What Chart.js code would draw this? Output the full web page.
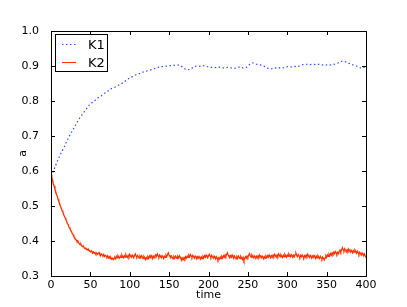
<!DOCTYPE html>
<html>
<head>
<meta charset="utf-8">
<script src="https://cdn.jsdelivr.net/npm/chart.js@4.4.0/dist/chart.umd.min.js"></script>
<style>
  html, body { margin: 0; padding: 0; background: #fff; }
  canvas { display: block; }
</style>
</head>
<body>
<canvas id="grafica" width="407" height="307"></canvas>
<script>
// values
var xTicks = [0, 50, 100, 150, 200, 250, 300, 350, 400];
var yTicks = [0.3, 0.4, 0.5, 0.6, 0.7, 0.8, 0.9, 1.0];

// K1 sampled every 4 time units
var k1Step = 4;
var k1 = [0.585, 0.605, 0.628, 0.648, 0.665, 0.685, 0.703, 0.718, 0.735, 0.750,
  0.762, 0.775, 0.787, 0.795, 0.802, 0.810, 0.815, 0.822, 0.828, 0.835,
  0.838, 0.843, 0.848, 0.853, 0.860, 0.866, 0.870, 0.875, 0.878, 0.882,
  0.885, 0.887, 0.890, 0.893, 0.896, 0.898, 0.899, 0.900, 0.901, 0.902,
  0.903, 0.902, 0.895, 0.889, 0.890, 0.895, 0.900, 0.899, 0.901, 0.900,
  0.897, 0.896, 0.895, 0.897, 0.896, 0.894, 0.896, 0.895, 0.893, 0.895,
  0.898, 0.894, 0.896, 0.904, 0.909, 0.905, 0.904, 0.902, 0.898, 0.893,
  0.892, 0.895, 0.893, 0.896, 0.895, 0.898, 0.897, 0.899, 0.898, 0.900,
  0.904, 0.905, 0.904, 0.905, 0.904, 0.905, 0.903, 0.904, 0.902, 0.903,
  0.905, 0.908, 0.913, 0.914, 0.910, 0.906, 0.903, 0.900, 0.895, 0.894,
  0.900];

// K2 sampled every time unit
var k2Step = 1;
var k2 = [
  0.590, 0.581, 0.574, 0.563, 0.557, 0.548, 0.541, 0.533, 0.528, 0.519, 0.512, 0.507, 0.499, 0.494, 0.487, 0.483, 0.476, 0.471, 0.466, 0.461,
  0.455, 0.449, 0.446, 0.439, 0.436, 0.430, 0.427, 0.421, 0.418, 0.413, 0.410, 0.405, 0.403, 0.399, 0.401, 0.395, 0.392, 0.390, 0.391, 0.386,
  0.384, 0.386, 0.381, 0.379, 0.380, 0.376, 0.377, 0.373, 0.375, 0.371, 0.369, 0.372, 0.368, 0.366, 0.369, 0.365, 0.367, 0.363, 0.366, 0.362,
  0.364, 0.367, 0.361, 0.359, 0.363, 0.360, 0.358, 0.362, 0.356, 0.359, 0.357, 0.354, 0.358, 0.352, 0.355, 0.350, 0.353, 0.348, 0.351, 0.347,
  0.350, 0.353, 0.349, 0.356, 0.352, 0.358, 0.354, 0.351, 0.357, 0.353, 0.360, 0.355, 0.352, 0.358, 0.354, 0.361, 0.356, 0.353, 0.359, 0.355,
  0.362, 0.357, 0.354, 0.360, 0.356, 0.352, 0.358, 0.363, 0.357, 0.354, 0.359, 0.355, 0.351, 0.357, 0.353, 0.358, 0.354, 0.350, 0.356, 0.352,
  0.347, 0.353, 0.349, 0.355, 0.351, 0.357, 0.353, 0.359, 0.354, 0.350, 0.356, 0.352, 0.358, 0.361, 0.356, 0.363, 0.358, 0.354, 0.360, 0.356,
  0.352, 0.358, 0.355, 0.350, 0.356, 0.353, 0.359, 0.355, 0.362, 0.366, 0.360, 0.356, 0.352, 0.357, 0.353, 0.349, 0.355, 0.351, 0.357, 0.354,
  0.350, 0.356, 0.352, 0.358, 0.354, 0.349, 0.345, 0.351, 0.347, 0.353, 0.349, 0.355, 0.351, 0.357, 0.353, 0.359, 0.355, 0.361, 0.357, 0.353,
  0.359, 0.355, 0.351, 0.357, 0.353, 0.349, 0.355, 0.351, 0.356, 0.352, 0.348, 0.354, 0.350, 0.356, 0.352, 0.358, 0.354, 0.360, 0.356, 0.352,
  0.358, 0.362, 0.357, 0.353, 0.359, 0.355, 0.351, 0.357, 0.353, 0.349, 0.355, 0.351, 0.346, 0.352, 0.348, 0.354, 0.350, 0.356, 0.352, 0.358,
  0.354, 0.360, 0.356, 0.362, 0.366, 0.360, 0.356, 0.352, 0.358, 0.354, 0.360, 0.355, 0.351, 0.357, 0.353, 0.349, 0.355, 0.351, 0.357, 0.353,
  0.350, 0.356, 0.352, 0.347, 0.353, 0.344, 0.350, 0.355, 0.351, 0.357, 0.353, 0.359, 0.364, 0.358, 0.354, 0.360, 0.356, 0.352, 0.358, 0.354,
  0.350, 0.356, 0.352, 0.358, 0.354, 0.360, 0.356, 0.352, 0.357, 0.353, 0.349, 0.355, 0.351, 0.357, 0.353, 0.358, 0.354, 0.360, 0.356, 0.352,
  0.358, 0.354, 0.360, 0.356, 0.362, 0.358, 0.354, 0.360, 0.356, 0.363, 0.359, 0.355, 0.361, 0.357, 0.353, 0.359, 0.355, 0.362, 0.358, 0.354,
  0.360, 0.356, 0.363, 0.359, 0.355, 0.361, 0.357, 0.353, 0.359, 0.355, 0.361, 0.365, 0.359, 0.355, 0.361, 0.357, 0.353, 0.359, 0.355, 0.360,
  0.356, 0.352, 0.358, 0.354, 0.360, 0.356, 0.362, 0.357, 0.353, 0.359, 0.355, 0.351, 0.357, 0.353, 0.359, 0.355, 0.350, 0.356, 0.352, 0.358,
  0.354, 0.350, 0.356, 0.352, 0.348, 0.354, 0.350, 0.346, 0.352, 0.358, 0.354, 0.360, 0.356, 0.362, 0.358, 0.364, 0.360, 0.366, 0.362, 0.368,
  0.364, 0.370, 0.366, 0.362, 0.368, 0.364, 0.370, 0.374, 0.369, 0.375, 0.381, 0.376, 0.372, 0.378, 0.373, 0.369, 0.375, 0.371, 0.377, 0.372,
  0.368, 0.374, 0.370, 0.366, 0.372, 0.368, 0.374, 0.370, 0.365, 0.371, 0.367, 0.362, 0.368, 0.364, 0.360, 0.366, 0.362, 0.358, 0.363, 0.357,
  0.352];

function puntos(vals, paso) {
  var out = [];
  for (var i = 0; i < vals.length; i++) {
    out.push({ x: i * paso, y: vals[i] });
  }
  return out;
}

var fuente = "'DejaVu Sans', sans-serif";

// frame, inward ticks and legend box, matplotlib style
var marco = {
  id: 'marco',
  afterDraw: function (chart) {
    var ctx = chart.ctx, a = chart.chartArea;
    var sx = chart.scales.x, sy = chart.scales.y;
    ctx.save();
    ctx.strokeStyle = '#000';
    ctx.lineWidth = 1;
    ctx.beginPath();
    for (var i = 0; i < xTicks.length; i++) {
      var px = Math.round(sx.getPixelForValue(xTicks[i])) + 0.5;
      ctx.moveTo(px, a.bottom); ctx.lineTo(px, a.bottom - 4);
      ctx.moveTo(px, a.top); ctx.lineTo(px, a.top + 4);
    }
    for (var j = 0; j < yTicks.length; j++) {
      var py = Math.round(sy.getPixelForValue(yTicks[j])) + 0.5;
      ctx.moveTo(a.left, py); ctx.lineTo(a.left + 4, py);
      ctx.moveTo(a.right, py); ctx.lineTo(a.right - 4, py);
    }
    ctx.stroke();
    ctx.strokeRect(Math.round(a.left) + 0.5, Math.round(a.top) + 0.5,
      Math.round(a.right - a.left), Math.round(a.bottom - a.top));

    // legend
    var lx = Math.round(a.left) + 4, ly = Math.round(a.top) + 3, lw = 52, lh = 37;
    ctx.fillStyle = '#fff';
    ctx.fillRect(lx, ly, lw, lh);
    ctx.strokeRect(lx + 0.5, ly + 0.5, lw, lh);
    var ds = chart.data.datasets;
    ctx.font = '13px ' + fuente;
    ctx.textBaseline = 'middle';
    for (var k = 0; k < ds.length; k++) {
      var yy = ly + 10 + k * 18 + 0.5;
      ctx.strokeStyle = ds[k].borderColor;
      ctx.setLineDash(ds[k].borderDash || []);
      ctx.beginPath();
      ctx.moveTo(lx + 7, yy); ctx.lineTo(lx + 21, yy);
      ctx.stroke();
      ctx.setLineDash([]);
      ctx.fillStyle = '#000';
      ctx.fillText(ds[k].label, lx + 33, yy + 1);
    }
    ctx.restore();
  }
};

new Chart(document.getElementById('grafica').getContext('2d'), {
  type: 'line',
  data: {
    datasets: [
      {
        label: 'K1',
        data: puntos(k1, k1Step),
        borderColor: '#2a4dff',
        borderWidth: 1.2,
        borderDash: [1.5, 2.5],
        pointRadius: 0,
        tension: 0,
        fill: false
      },
      {
        label: 'K2',
        data: puntos(k2, k2Step),
        borderColor: '#ff3300',
        borderWidth: 1.3,
        pointRadius: 0,
        tension: 0,
        fill: false
      }
    ]
  },
  options: {
    responsive: false,
    animation: false,
    devicePixelRatio: 1,
    layout: { padding: { top: 31, right: 41, left: 0, bottom: 0 } },
    plugins: { legend: { display: false }, tooltip: { enabled: false } },
    scales: {
      x: {
        type: 'linear', min: 0, max: 400,
        afterFit: function (s) { s.height = 31; },
        afterBuildTicks: function (s) { s.ticks = xTicks.map(function (v) { return { value: v }; }); },
        grid: { display: false },
        border: { display: false },
        ticks: { padding: -5, color: '#000', font: { family: fuente, size: 11 }, maxRotation: 0 },
        title: { display: true, text: 'time', color: '#000', padding: { top: 0, bottom: 5 }, font: { family: fuente, size: 11 } }
      },
      y: {
        type: 'linear', min: 0.3, max: 1.0,
        afterFit: function (s) { s.width = 51; },
        afterBuildTicks: function (s) { s.ticks = yTicks.map(function (v) { return { value: v }; }); },
        grid: { display: false },
        border: { display: false },
        ticks: {
          padding: 4, color: '#000', font: { family: fuente, size: 11 },
          callback: function (v) { return v.toFixed(1); }
        },
        title: { display: true, text: 'a', color: '#000', padding: { top: 17, bottom: 0 }, font: { family: fuente, size: 11 } }
      }
    }
  },
  plugins: [marco]
});
</script>
</body>
</html>
